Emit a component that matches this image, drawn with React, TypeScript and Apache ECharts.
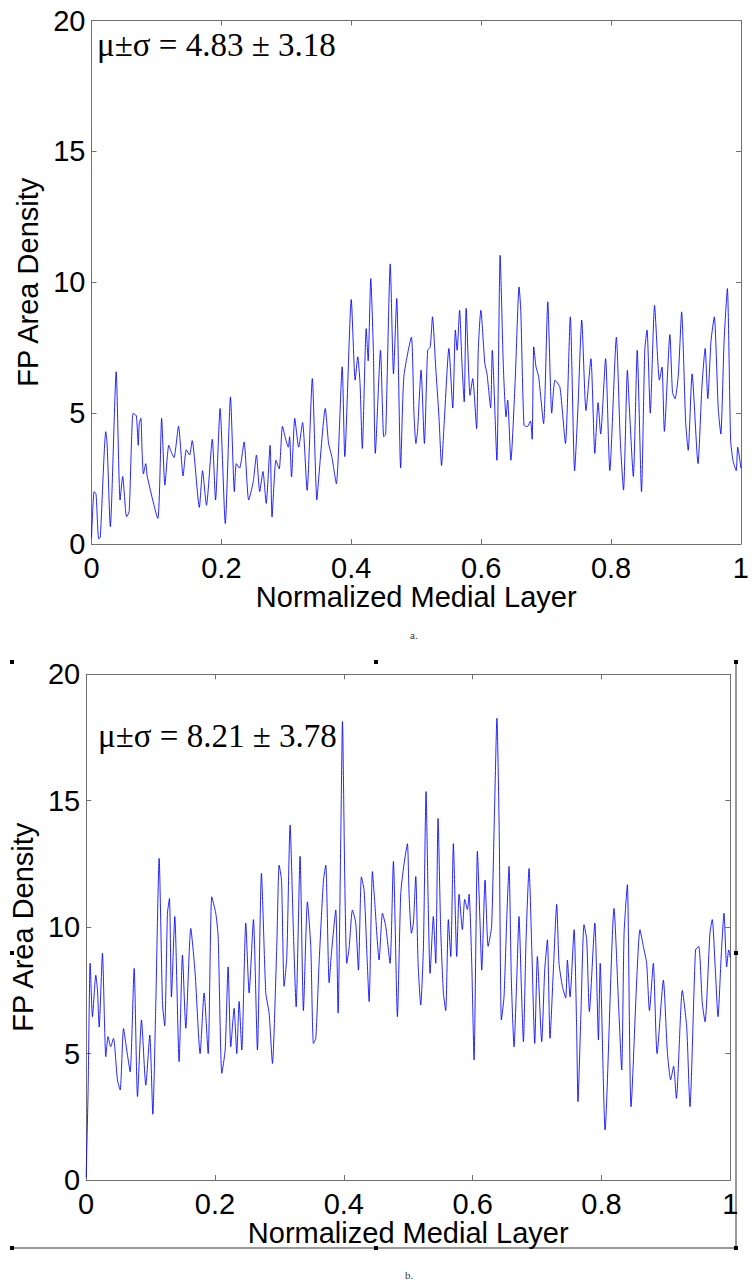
import React, { useEffect, useRef } from "react";
import * as echarts from "echarts";

// ---- Data ----
const xTicks = ["0", "0.2", "0.4", "0.6", "0.8", "1"];
const yTicks = ["0", "5", "10", "15", "20"];

const topX = [
  0, 0.004, 0.007, 0.011, 0.0135, 0.022, 0.024, 0.029, 0.038, 0.044, 0.048, 0.054, 0.058, 0.064, 0.069, 0.072,
  0.0735, 0.076, 0.078, 0.08, 0.0835, 0.086, 0.102, 0.108, 0.113, 0.119, 0.123, 0.127, 0.134, 0.141, 0.146, 0.151,
  0.155, 0.166, 0.171, 0.177, 0.186, 0.191, 0.198, 0.206, 0.214, 0.22, 0.223, 0.228, 0.235, 0.242, 0.249, 0.254,
  0.259, 0.264, 0.269, 0.275, 0.278, 0.284, 0.289, 0.294, 0.298, 0.303, 0.305, 0.308, 0.313, 0.319, 0.325, 0.332,
  0.34, 0.347, 0.35, 0.36, 0.365, 0.37, 0.377, 0.386, 0.39, 0.4, 0.406, 0.41, 0.4135, 0.417, 0.423, 0.426,
  0.43, 0.434, 0.437, 0.445, 0.45, 0.453, 0.46, 0.465, 0.47, 0.476, 0.481, 0.4925, 0.4965, 0.4995, 0.502, 0.5075,
  0.5126, 0.5176, 0.5216, 0.5251, 0.53, 0.535, 0.539, 0.543, 0.5503, 0.5563, 0.5603, 0.563, 0.5668, 0.5704, 0.5739, 0.5769,
  0.5829, 0.587, 0.593, 0.5955, 0.5995, 0.6056, 0.609, 0.6146, 0.6171, 0.6242, 0.6292, 0.6342, 0.6383, 0.6408, 0.6458, 0.6524,
  0.6584, 0.661, 0.6659, 0.671, 0.676, 0.6785, 0.681, 0.6845, 0.6885, 0.6961, 0.7026, 0.7087, 0.7137, 0.7212, 0.7298, 0.7373,
  0.7439, 0.749, 0.7549, 0.7614, 0.769, 0.775, 0.78, 0.784, 0.7916, 0.7981, 0.8082, 0.8142, 0.8192, 0.8252, 0.8282, 0.8343,
  0.8403, 0.8469, 0.8519, 0.8554, 0.8604, 0.867, 0.8745, 0.8785, 0.8821, 0.8906, 0.8946, 0.8986, 0.9037, 0.9087, 0.9148, 0.9188,
  0.9248, 0.9339, 0.9399, 0.9449, 0.949, 0.954, 0.959, 0.965, 0.969, 0.9741, 0.9791, 0.9841, 0.9877, 0.9927, 0.995, 1.0,
];
const topY = [
  0.22, 2.0, 1.9, 0.2, 0.25, 4.29, 3.85, 0.66, 6.58, 1.68, 2.58, 1.04, 1.24, 4.99, 4.9, 3.77,
  4.6, 4.8, 3.46, 2.68, 3.07, 2.56, 0.98, 4.8, 2.25, 3.77, 3.5, 3.3, 4.5, 2.6, 3.6, 3.4,
  3.95, 1.4, 2.8, 1.48, 4.0, 1.68, 5.18, 0.78, 5.62, 2.0, 3.07, 2.9, 3.9, 1.68, 2.37, 3.4,
  2.0, 2.77, 1.55, 3.77, 1.04, 3.2, 2.87, 4.5, 4.1, 3.7, 4.1, 2.56, 4.8, 3.7, 4.64, 2.05,
  6.32, 1.68, 2.56, 5.18, 3.85, 3.34, 2.3, 6.77, 3.34, 9.34, 6.26, 7.15, 6.13, 3.65, 8.23, 7.0,
  10.14, 7.4, 3.46, 7.4, 4.1, 4.2, 10.7, 6.5, 9.38, 2.9, 6.4, 7.9, 5.0, 3.84, 4.3, 6.64,
  3.84, 7.4, 7.53, 8.68, 6.76, 4.86, 3.0, 4.6, 7.47, 5.2, 8.17, 7.4, 8.93, 6.9, 5.43, 9.0,
  5.68, 6.32, 4.41, 7.4, 8.93, 6.9, 6.5, 5.2, 7.4, 3.2, 11.03, 6.76, 4.86, 5.5, 3.2, 6.26,
  9.82, 8.93, 4.54, 4.48, 4.7, 4.0, 7.53, 6.76, 6.4, 4.6, 9.25, 5.0, 6.26, 6.0, 3.84, 8.68,
  2.8, 5.2, 8.55, 5.1, 7.08, 3.46, 5.4, 4.2, 7.08, 2.8, 7.9, 3.97, 2.06, 6.64, 5.2, 2.58,
  7.4, 2.0, 7.4, 8.17, 5.0, 9.12, 6.26, 6.76, 4.3, 8.0, 5.8, 5.55, 6.5, 8.87, 4.7, 3.58,
  6.5, 3.07, 6.0, 7.47, 5.55, 7.78, 8.68, 5.2, 4.2, 7.78, 9.76, 3.97, 3.2, 2.8, 3.7, 2.9,
];

const bottomX = [
  0, 0.003, 0.0062, 0.0098, 0.015, 0.0176, 0.0202, 0.0253, 0.0305, 0.034, 0.038, 0.0424, 0.0486, 0.0528, 0.058, 0.063,
  0.0683, 0.0745, 0.0797, 0.0859, 0.0926, 0.0988, 0.1035, 0.108, 0.1133, 0.1185, 0.122, 0.1262, 0.1293, 0.1324, 0.1376, 0.1443,
  0.1495, 0.1547, 0.1624, 0.1692, 0.1769, 0.1831, 0.1894, 0.195, 0.2012, 0.2049, 0.2106, 0.2158, 0.2204, 0.2245, 0.2297, 0.2338,
  0.2375, 0.2416, 0.2478, 0.253, 0.2597, 0.2659, 0.2721, 0.2789, 0.284, 0.2892, 0.2959, 0.2996, 0.3033, 0.3073, 0.3115, 0.3166,
  0.3218, 0.326, 0.3321, 0.3373, 0.3435, 0.3487, 0.3528, 0.3565, 0.3616, 0.3684, 0.372, 0.3772, 0.3808, 0.3875, 0.3911, 0.3953,
  0.3979, 0.4015, 0.4046, 0.4082, 0.4134, 0.4185, 0.4227, 0.4273, 0.4315, 0.4356, 0.4393, 0.4444, 0.448, 0.4548, 0.46, 0.4651,
  0.4718, 0.477, 0.4832, 0.4884, 0.4935, 0.4987, 0.5013, 0.505, 0.508, 0.5117, 0.5153, 0.5194, 0.5236, 0.5277, 0.5308, 0.5339,
  0.539, 0.5427, 0.5463, 0.5504, 0.5546, 0.5582, 0.5623, 0.566, 0.5701, 0.5753, 0.579, 0.5841, 0.5877, 0.5919, 0.5945, 0.5986,
  0.6022, 0.6074, 0.6115, 0.6141, 0.6193, 0.624, 0.6294, 0.6336, 0.6377, 0.6413, 0.6446, 0.6487, 0.6529, 0.6565, 0.6601, 0.6643,
  0.6684, 0.672, 0.6756, 0.6788, 0.6829, 0.6876, 0.6917, 0.6964, 0.7005, 0.7072, 0.7119, 0.7161, 0.7201, 0.7253, 0.7305, 0.7341,
  0.7393, 0.7445, 0.7471, 0.7512, 0.7575, 0.7615, 0.7635, 0.768, 0.7729, 0.7771, 0.7812, 0.7897, 0.7953, 0.798, 0.8056, 0.8195,
  0.8267, 0.8314, 0.8351, 0.8402, 0.8459, 0.8598, 0.865, 0.8701, 0.8745, 0.8805, 0.8863, 0.8961, 0.9022, 0.9074, 0.912, 0.9163,
  0.9255, 0.9323, 0.9374, 0.946, 0.951, 0.9565, 0.9608, 0.9684, 0.972, 0.9768, 0.9809, 0.9861, 0.9902, 0.9944, 0.9975, 1.0,
];
const bottomY = [
  0.1, 3.5, 8.57, 6.46, 8.1, 7.5, 6.05, 8.97, 4.88, 5.67, 5.27, 5.6, 3.95, 3.56, 5.99, 5.14,
  4.28, 8.37, 3.3, 6.33, 3.75, 5.73, 2.6, 6.85, 12.72, 6.98, 6.1, 10.55, 11.13, 7.24, 10.42, 4.68,
  8.9, 6.0, 9.95, 8.17, 5.0, 7.4, 5.0, 11.2, 10.55, 9.63, 4.22, 5.14, 8.43, 5.27, 6.79, 5.0,
  7.06, 5.14, 10.16, 7.4, 10.3, 5.14, 12.13, 7.4, 6.6, 4.61, 9.24, 12.45, 11.86, 7.66, 8.84, 14.04,
  9.76, 6.85, 12.8, 6.7, 11.0, 9.24, 5.4, 5.6, 8.57, 11.86, 12.45, 7.8, 8.97, 10.68, 6.6, 13.6,
  18.13, 11.86, 8.57, 9.17, 10.68, 10.16, 8.3, 11.99, 11.46, 9.1, 7.06, 12.2, 11.0, 8.7, 10.55, 10.03,
  8.57, 12.6, 6.46, 11.33, 12.5, 13.3, 11.3, 9.76, 10.16, 12.0, 8.57, 6.92, 9.24, 15.36, 11.2, 8.17,
  10.42, 8.57, 14.3, 9.9, 7.4, 6.7, 10.3, 8.84, 13.3, 8.84, 11.3, 9.9, 11.1, 10.7, 11.3, 8.57,
  4.75, 13.0, 10.16, 8.3, 11.86, 9.24, 10.03, 14.2, 18.26, 13.7, 6.33, 7.24, 10.3, 12.4, 7.9, 5.27,
  7.9, 10.42, 7.66, 5.47, 9.5, 12.32, 9.24, 5.4, 8.84, 5.47, 8.3, 9.5, 5.6, 8.3, 10.9, 8.57,
  7.66, 7.2, 8.7, 7.24, 9.9, 5.94, 3.1, 6.5, 10.1, 9.5, 6.66, 10.16, 5.54, 8.57, 1.98, 10.74,
  6.85, 4.35, 9.76, 11.68, 2.9, 9.9, 9.24, 8.57, 6.7, 8.57, 5.0, 7.9, 5.1, 3.96, 4.5, 3.23,
  7.5, 6.05, 2.9, 9.1, 9.24, 7.0, 6.26, 9.76, 10.3, 8.3, 6.46, 8.97, 10.55, 8.43, 9.1, 8.8,
];

const statTop = "μ±σ = 4.83 ± 3.18";
const statBottom = "μ±σ = 8.21 ± 3.78";
const xName = "Normalized Medial Layer";
const yName = "FP Area Density";

const SANS = "'Liberation Sans', Arial, Helvetica, sans-serif";
const SERIF = "'Liberation Serif', 'Times New Roman', serif";
const AXIS = "#707070";

function axesFor(grid: number, nameGapX: number, nameGapY: number) {
  const line = { show: true, onZero: false, lineStyle: { color: AXIS, width: 1 } };
  const tick = { show: true, inside: true, length: 5, lineStyle: { color: AXIS, width: 1 } };
  const xs = [
    {
      gridIndex: grid, type: "value", position: "bottom", min: 0, max: 1, interval: 0.2,
      axisLine: line, axisTick: tick, splitLine: { show: false },
      axisLabel: {
        fontSize: 29, color: "#000", fontFamily: SANS, margin: 9,
        formatter: (v: number) => xTicks[Math.round(v * 5)] ?? String(v),
      },
      name: xName, nameLocation: "middle", nameGap: nameGapX,
      nameTextStyle: { fontSize: 29, color: "#000", fontFamily: SANS },
    },
    {
      gridIndex: grid, type: "value", position: "top", min: 0, max: 1, interval: 0.2,
      axisLine: line, axisTick: tick, splitLine: { show: false }, axisLabel: { show: false },
    },
  ];
  const ys = [
    {
      gridIndex: grid, type: "value", position: "left", min: 0, max: 20, interval: 5,
      axisLine: line, axisTick: tick, splitLine: { show: false },
      axisLabel: {
        fontSize: 29, color: "#000", fontFamily: SANS, margin: 6,
        formatter: (v: number) => yTicks[Math.round(v / 5)] ?? String(v),
      },
      name: yName, nameLocation: "middle", nameGap: nameGapY,
      nameTextStyle: { fontSize: 29, color: "#000", fontFamily: SANS },
    },
    {
      gridIndex: grid, type: "value", position: "right", min: 0, max: 20, interval: 5,
      axisLine: line, axisTick: tick, splitLine: { show: false }, axisLabel: { show: false },
    },
  ];
  return { xs, ys };
}

export default function App() {
  const ref = useRef<HTMLDivElement>(null);
  useEffect(() => {
    if (!ref.current) return;
    const chart = echarts.init(ref.current, undefined, { renderer: "svg" });
    const a = axesFor(0, 38, 47);
    const b = axesFor(1, 36, 45);
    const topData = topX.map((x, i) => [x, topY[i]]);
    const bottomData = bottomX.map((x, i) => [x, bottomY[i]]);
    const handles = [
      [12, 662], [376, 662], [736, 662], [12, 953], [736, 953], [12, 1248], [376, 1248], [736, 1248],
    ];
    const lineStyle = { color: "#0000ff", width: 1, opacity: 0.85 };
    chart.setOption({
      animation: false,
      backgroundColor: "#ffffff",
      grid: [
        { left: 91.5, top: 20.5, width: 663, height: 523.5, containLabel: false },
        { left: 86, top: 674.3, width: 644.3, height: 505.7, containLabel: false },
      ],
      xAxis: [...a.xs, ...b.xs],
      yAxis: [...a.ys, ...b.ys],
      series: [
        {
          type: "line", xAxisIndex: 0, yAxisIndex: 0, data: topData, showSymbol: false,
          smooth: 0.2, lineStyle, clip: true,
        },
        {
          type: "line", xAxisIndex: 2, yAxisIndex: 2, data: bottomData, showSymbol: false,
          smooth: 0.2, lineStyle, clip: true,
        },
      ],
      graphic: [
        {
          type: "text", left: 97, top: 28, z: 100,
          style: { text: statTop, font: `33px ${SERIF}`, fill: "#000" },
        },
        {
          type: "text", left: 98, top: 719, z: 100,
          style: { text: statBottom, font: `33px ${SERIF}`, fill: "#000" },
        },
        {
          type: "text", left: 410, top: 629,
          style: { text: "a.", font: `11px ${SERIF}`, fill: "#333" },
        },
        {
          type: "text", left: 405, top: 1269,
          style: { text: "b.", font: `11px ${SERIF}`, fill: "#333" },
        },
        {
          type: "line", shape: { x1: 12, y1: 1248, x2: 736, y2: 1248 },
          style: { stroke: "#333", lineWidth: 1 },
        },
        {
          type: "line", shape: { x1: 736, y1: 662, x2: 736, y2: 1248 },
          style: { stroke: "#333", lineWidth: 1 },
        },
        ...handles.map(([x, y]) => ({
          type: "rect", shape: { x: x - 2, y: y - 2, width: 4, height: 4 },
          style: { fill: "#000" },
        })),
      ],
    });
    return () => chart.dispose();
  }, []);
  return (
    <div
      ref={ref}
      style={{ position: "absolute", left: 0, top: 0, width: 752, height: 1284, background: "#fff" }}
    />
  );
}
